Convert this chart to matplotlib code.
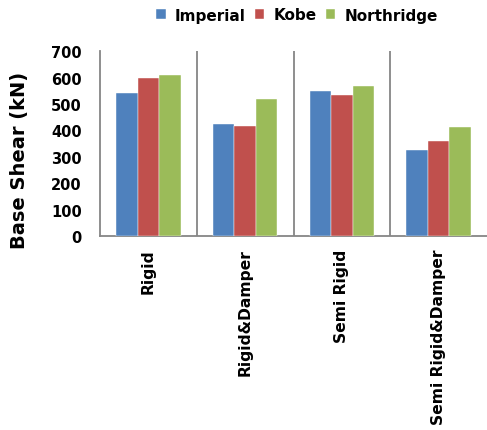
import matplotlib
matplotlib.use("Agg")
import matplotlib.pyplot as plt
import numpy as np

categories = ["Rigid", "Rigid&Damper", "Semi Rigid", "Semi Rigid&Damper"]
series_names = ["Imperial", "Kobe", "Northridge"]
imperial = [541, 425, 551, 325]
kobe = [598, 416, 536, 359]
northridge = [611, 519, 569, 412]
yticks = [0, 100, 200, 300, 400, 500, 600, 700]

colors = ["#4F81BD", "#C0504D", "#9BBB59"]
plt.rcParams['font.family'] = ['DejaVu Sans']
plt.rcParams['font.weight'] = 'bold'

fig = plt.figure(figsize=(4.87, 4.31), dpi=100)
ax = fig.add_axes([100/487, 1-237/431, 387/487, (237-52.3)/431])

x = np.arange(len(categories))
w = 0.222
for i, (vals, name) in enumerate(zip([imperial, kobe, northridge], series_names)):
    ax.bar(x + (i-1)*w, vals, width=w, color=colors[i], label=name,
           edgecolor='white', linewidth=0.3, zorder=3)

ax.set_xlim(-0.5, 3.5)
ax.set_ylim(0, 700)
ax.set_yticks(yticks)
ax.set_yticklabels([str(t) for t in yticks], fontsize=10.5, fontweight='bold')
ax.tick_params(axis='y', length=0, pad=13)
ax.set_xticks(x)
ax.set_xticklabels(categories, rotation=90, fontsize=11.2, fontweight='bold', va='top')
ax.tick_params(axis='x', length=0, pad=9)

for b in [0.5, 1.5, 2.5]:
    ax.axvline(b, color='#868686', linewidth=1.3, zorder=1)

for s in ['top', 'right']:
    ax.spines[s].set_visible(False)
for s in ['left', 'bottom']:
    ax.spines[s].set_color('#868686')
    ax.spines[s].set_linewidth(1.3)

fig.text(20/487, 1-160/431, "Base Shear (kN)", rotation=90, ha='center', va='center',
         fontsize=14, fontweight='bold')

leg = fig.legend(loc='center', bbox_to_anchor=(297/487, 1-16/431), ncol=3, frameon=False,
                 handlelength=0.62, handleheight=0.62, handletextpad=0.6,
                 columnspacing=0.6, prop={'weight': 'bold', 'size': 11})

fig.savefig("out.png", dpi=100)
